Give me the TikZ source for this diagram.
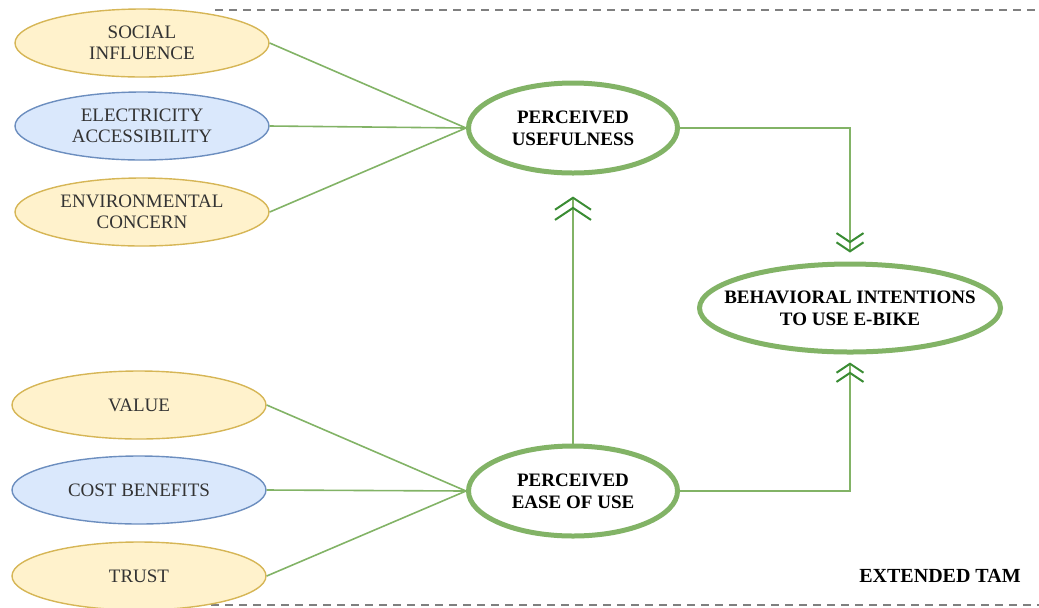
\documentclass[tikz,border=0pt]{standalone}
\usepackage{fontspec}
\setmainfont{Liberation Serif}
\usepackage{tikz}
\usetikzlibrary{arrows.meta,positioning,shapes.geometric}
\definecolor{factorfill}{HTML}{FFF2CC}
\definecolor{factorline}{HTML}{D6B656}
\definecolor{accessfill}{HTML}{DAE8FC}
\definecolor{accessline}{HTML}{6C8EBF}
\definecolor{tamgreen}{HTML}{82B366}
\definecolor{tipgreen}{HTML}{3A8C34}
\definecolor{labelgray}{HTML}{333333}
\definecolor{framegray}{HTML}{7F7F7F}

\begin{document}
\begin{tikzpicture}[x=0.5pt,y=-0.5pt,
  factor/.style={ellipse, draw=factorline, fill=factorfill, line width=0.7pt,
    minimum width=127pt, minimum height=34pt, inner sep=0pt, align=center,
    text=labelgray, font=\fontsize{9.5}{10.5}\selectfont},
  access/.style={factor, draw=accessline, fill=accessfill},
  construct/.style={ellipse, draw=tamgreen, line width=2.5pt, fill=white,
    minimum width=104.5pt, minimum height=45pt, inner sep=0pt, align=center,
    font=\bfseries\fontsize{9.5}{11}\selectfont},
  link/.style={draw=tamgreen, line width=0.8pt},
  effect/.style={link, -{Straight Barb[length=4.5pt,width=13.5pt,line width=1pt,color=tipgreen,sep=-1pt]
    Straight Barb[length=4.5pt,width=13.5pt,line width=1pt,color=tipgreen,sep=-1pt]}},
  bigeffect/.style={link, -{Straight Barb[length=6pt,width=18pt,line width=1pt,color=tipgreen,sep=-2pt]
    Straight Barb[length=6pt,width=18pt,line width=1pt,color=tipgreen,sep=-2pt]}},
  frameline/.style={draw=framegray, line width=1pt, dash pattern=on 4pt off 3pt}]
\useasboundingbox (0,0) rectangle (1039,607);

% --- Frame lines ---
\draw[frameline] (215,10) -- (1039,10);
\draw[frameline] (197,605) -- (1039,605);

% --- External factors (left) ---
\node[factor] (si) at (142,43) {SOCIAL\\INFLUENCE};
\node[access] (ea) at (142,126) {ELECTRICITY\\ACCESSIBILITY};
\node[factor] (ec) at (142,212) {ENVIRONMENTAL\\CONCERN};

\node[factor] (va) at (139,405) {VALUE};
\node[access] (cb) at (139,490) {COST BENEFITS};
\node[factor] (tr) at (139,576) {TRUST};

% --- TAM constructs ---
\node[construct] (pu) at (573,128) {PERCEIVED\\USEFULNESS};
\node[construct] (peou) at (573,491) {PERCEIVED\\EASE OF USE};
\node[construct, minimum width=150.5pt, minimum height=44pt,
  label={[font=\bfseries\fontsize{9.5}{11}\selectfont, align=center]center:{BEHAVIORAL INTENTIONS\\TO USE E-BIKE}}]
  (bi) at (850,308) {};

\node[font=\bfseries\fontsize{10}{12}\selectfont] (tam) at (940,576) {EXTENDED TAM};

% Factors into constructs
\foreach \src in {si,ea,ec} {
  \draw[link] (\src.east) -- (pu.west);
}
\foreach \src in {va,cb,tr} {
  \draw[link] (\src.east) -- (peou.west);
}

% Constructs into intention
\draw[effect, shorten >=5.5pt] (pu.east) -| (bi.north);
\draw[effect, shorten >=5pt] (peou.east) -| (bi.south);
\draw[bigeffect, shorten >=12.5pt] (peou.north) -- (pu.south);
\end{tikzpicture}
\end{document}
